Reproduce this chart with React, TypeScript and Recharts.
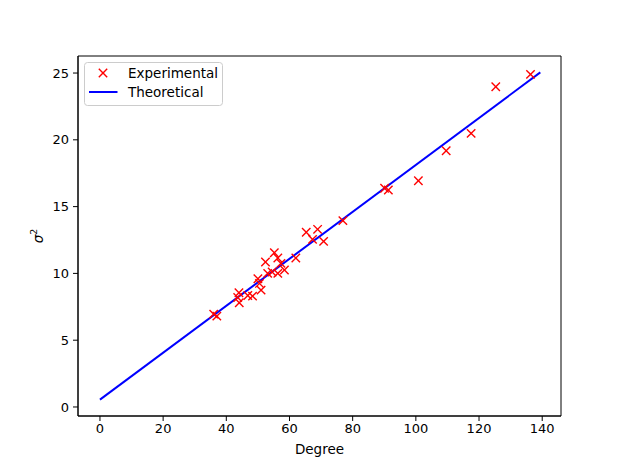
import React from 'react';
import { ScatterChart, Scatter, XAxis, YAxis, Legend, ReferenceArea } from 'recharts';

// degree vs sigma^2
const expDegree = [
  36.0, 37.0, 43.6, 44.0, 44.1, 46.8, 48.3, 50.0, 50.5, 51.0, 52.4, 53.1, 54.5, 55.2, 56.3, 56.3,
  57.3, 58.4, 62.0, 65.3, 67.3, 68.9, 70.8, 76.9, 90.1, 91.3, 100.8, 109.6, 117.5, 125.3, 136.3,
];
const expSigma2 = [
  6.95, 6.8, 8.2, 8.55, 7.8, 8.35, 8.3, 9.6, 9.25, 8.75, 10.85, 10.0, 10.1, 11.55, 11.15, 10.0,
  10.75, 10.25, 11.15, 13.08, 12.55, 13.3, 12.4, 13.95, 16.37, 16.24, 16.94, 19.18, 20.48, 23.97, 24.9,
];
const theoDegree = [0, 139.4];
const theoSigma2 = [0.55, 25.05];

const xTicks = [0, 20, 40, 60, 80, 100, 120, 140];
const yTicks = [0, 5, 10, 15, 20, 25];
const xDomain = [-6.95, 145.95];
const yDomain = [-0.675, 26.275];

const experimental = expDegree.map((x, i) => ({ x, y: expSigma2[i] }));
const theoretical = theoDegree.map((x, i) => ({ x, y: theoSigma2[i] }));

const FONT = '"DejaVu Sans", sans-serif';
const tickStyle = { fill: '#000', fontSize: 13, fontFamily: FONT };

function Cross(props: any) {
  const { cx, cy } = props;
  const r = 4.2;
  return (
    <g stroke="#ff0000" strokeWidth={1.4}>
      <line x1={cx - r} y1={cy - r} x2={cx + r} y2={cy + r} />
      <line x1={cx - r} y1={cy + r} x2={cx + r} y2={cy - r} />
    </g>
  );
}

function NoDot() {
  return null;
}

function LegendBox() {
  return (
    <svg width={140} height={45} style={{ display: 'block' }}>
      <rect x={0.5} y={0.5} width={138} height={43} rx={3} fill="#fff" fillOpacity={0.8} stroke="#cccccc" />
      <g stroke="#ff0000" strokeWidth={1.4}>
        <line x1={14.8} y1={6.8} x2={23.2} y2={15.2} />
        <line x1={14.8} y1={15.2} x2={23.2} y2={6.8} />
      </g>
      <line x1={5} y1={30} x2={33.5} y2={30} stroke="#0000ff" strokeWidth={2} />
      <text x={44} y={16} fontSize={13.5} fontFamily={FONT} fill="#000">Experimental</text>
      <text x={44} y={35} fontSize={13.5} fontFamily={FONT} fill="#000">Theoretical</text>
    </svg>
  );
}

export default function App() {
  return (
    <div style={{ position: 'absolute', left: 0, top: 0, width: 623, height: 467, background: '#fff' }}>
      <ScatterChart width={623} height={467} margin={{ top: 56, right: 62, bottom: 0, left: 0 }}>
        <XAxis
          dataKey="x"
          type="number"
          domain={xDomain}
          ticks={xTicks}
          allowDataOverflow
          height={51}
          stroke="#000"
          tickSize={5}
          tickMargin={3}
          tick={tickStyle}
          label={(p: any) => (
            <text
              x={p.viewBox.x + p.viewBox.width / 2}
              y={p.viewBox.y + 38}
              textAnchor="middle"
              fontSize={13.5}
              fontFamily={FONT}
              fill="#000"
            >
              Degree
            </text>
          )}
        />
        <YAxis
          dataKey="y"
          type="number"
          domain={yDomain}
          ticks={yTicks}
          allowDataOverflow
          width={78}
          stroke="#000"
          tickSize={5}
          tickMargin={4}
          tick={tickStyle}
          label={(p: any) => {
            const cy = p.viewBox.y + p.viewBox.height / 2;
            return (
              <text
                x={43}
                y={cy}
                textAnchor="middle"
                fontSize={13.5}
                fontFamily={FONT}
                fill="#000"
                transform={`rotate(-90, 43, ${cy})`}
              >
                <tspan fontStyle="italic">σ</tspan>
                <tspan fontSize={9.5} dy={-6}>2</tspan>
              </text>
            );
          }}
        />
        {/* axes frame on all four sides, like matplotlib */}
        <ReferenceArea
          x1={xDomain[0]}
          x2={xDomain[1]}
          y1={yDomain[0]}
          y2={yDomain[1]}
          fill="none"
          fillOpacity={0}
          stroke="#000"
          strokeWidth={1}
          ifOverflow="visible"
        />
        <Legend
          layout="vertical"
          align="center"
          verticalAlign="middle"
          wrapperStyle={{ left: 84, top: 62, width: 140, height: 45 }}
          content={() => <LegendBox />}
        />
        <Scatter
          name="Theoretical"
          data={theoretical}
          line={{ stroke: '#0000ff', strokeWidth: 2 }}
          shape={NoDot}
          isAnimationActive={false}
        />
        <Scatter name="Experimental" data={experimental} shape={Cross} isAnimationActive={false} />
      </ScatterChart>
    </div>
  );
}
